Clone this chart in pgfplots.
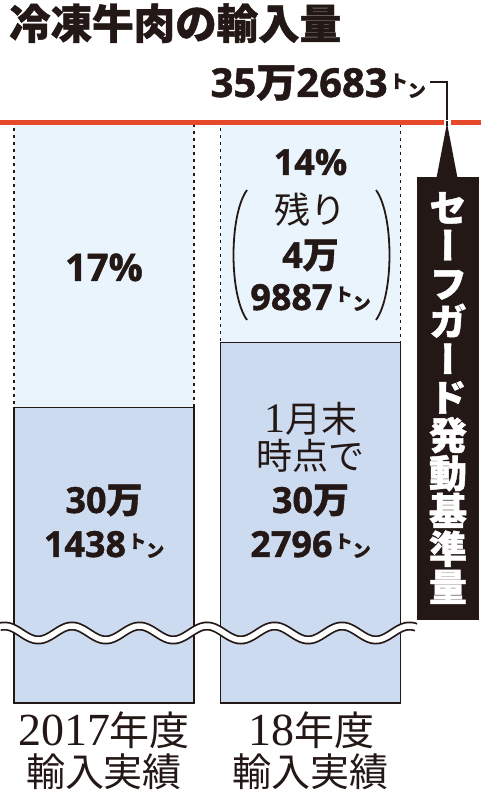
\documentclass[border=0pt]{standalone}
\usepackage{pgfplots}
\pgfplotsset{compat=1.18}
\usepackage{fontspec}
\newfontfamily\jp{Noto Sans CJK JP}[BoldFeatures={FakeBold=1.1}]
\newfontfamily\jpv{Noto Sans CJK JP}[RawFeature=+vert, BoldFeatures={FakeBold=1.2}]
\newfontfamily\os{Open Sans}[BoldFeatures={FakeBold=1.2}]
\newfontfamily\ser{Liberation Serif}
\definecolor{ink}{HTML}{231815}
\definecolor{lightb}{HTML}{E9F4FC}
\definecolor{darkb}{HTML}{CDDBF0}
\definecolor{redl}{HTML}{E5482B}
\newcommand\ton[1][18]{{\jp\bfseries\fontsize{#1}{#1}\selectfont\hspace{0.12em}\raisebox{0.5em}{ト}ン}}
\newcommand\NB[1][36]{\os\bfseries\fontsize{#1}{#1}\selectfont}
\newcommand\KB[1][36]{\jp\bfseries\fontsize{#1}{#1}\selectfont}
\newcommand\KR[1][36]{\jp\fontsize{#1}{#1}\selectfont}
\newcommand\SR[1][40]{\ser\fontsize{#1}{#1}\selectfont}
\begin{document}
\begin{tikzpicture}[x=1pt,y=1pt]
\useasboundingbox (0,0) rectangle (480,798);
\fill[white] (0,0) rectangle (480,798);
\begin{axis}[
  at={(0pt,95pt)}, anchor=south west,
  width=480pt, height=580pt, scale only axis,
  xmin=0, xmax=480, ymin=0, ymax=100,
  hide axis, clip=false]
% full scale (safeguard trigger level) shown as light bar
\addplot[ybar, bar width=180pt, bar shift=0pt, fill=lightb, draw=ink,
  line width=1.6pt, dash pattern=on 3pt off 4pt] coordinates {(104,100) (310.5,100)};
% imports (schematic height, broken axis)
\addplot[ybar, bar width=180pt, bar shift=0pt, fill=darkb, draw=ink,
  line width=1.3pt] coordinates {(104,50.9) (310.5,62.2)};
% safeguard trigger line 35万2683トン
\addplot[redl, line width=5pt] coordinates {(-5,100) (485,100)};
\end{axis}
% break marker
\draw[ink, line width=9pt] plot[domain=0:416, samples=160, smooth] (\x,{165+7*cos(5.3333*(\x-72))});
\draw[white, line width=5.5pt] plot[domain=-2:418, samples=160, smooth] (\x,{165+7*cos(5.3333*(\x-72))});
% title
\node[anchor=base west, inner sep=0pt, text=ink] at (9,798-39) {\KB[41.5]冷凍牛肉の輸入量};
% trigger value
\node[anchor=base east, inner sep=0pt, text=ink] at (426,798-97) {\NB[40]35\KB[40]万\NB[40]2683\ton[18]};
\draw[ink, line width=1.2pt] (430,798-82) -- (447,798-82) -- (447,798-121);
\fill[white] (444,798-126) rectangle (451,798-120);
\draw[ink, line width=1.2pt] (447,798-121) -- (447,798-126);
% arrow and black box
\fill[ink] (447,798-123) -- (457.5,798-178) -- (436.5,798-178) -- cycle;
\fill[ink] (417,798-177) rectangle (479,798-620);
\node[text=white, align=center, inner sep=0pt, font=\jpv\bfseries\fontsize{38}{37.9}\selectfont] at (448,798-398) {セ\\ー\\フ\\ガ\\ー\\ド\\発\\動\\基\\準\\量};
% left bar texts
\node[anchor=base, inner sep=0pt, text=ink] at (104,798-281) {\NB[38]17\%};
\node[anchor=base, inner sep=0pt, text=ink] at (104,798-513) {\NB[36]30\KB[36]万};
\node[anchor=base, inner sep=0pt, text=ink] at (104,798-557) {\NB[36]1438\ton};
% right bar texts
\node[anchor=base, inner sep=0pt, text=ink] at (310.5,798-175) {\NB[36]14\%};
\node[anchor=base, inner sep=0pt, text=ink] at (310.5,798-224) {\KR[36]残り};
\node[anchor=base, inner sep=0pt, text=ink] at (310.5,798-268) {\NB[36]4\KB[36]万};
\node[anchor=base, inner sep=0pt, text=ink] at (310.5,798-310) {\NB[36]9887\ton};
\draw[ink, line width=1.8pt] (247,798-190) .. controls (229,798-215) and (229,798-295) .. (247,798-320);
\draw[ink, line width=1.8pt] (376,798-190) .. controls (394,798-215) and (394,798-295) .. (376,798-320);
\node[anchor=base, inner sep=0pt, text=ink] at (310.5,798-433) {\SR[42]1\KR[36]月末};
\node[anchor=base, inner sep=0pt, text=ink] at (310.5,798-470) {\KR[36]時点で};
\node[anchor=base, inner sep=0pt, text=ink] at (310.5,798-513) {\NB[36]30\KB[36]万};
\node[anchor=base, inner sep=0pt, text=ink] at (310.5,798-557) {\NB[36]2796\ton};
% category labels
\node[anchor=base, inner sep=0pt, text=ink] at (104,798-746) {\SR[46]2017\KR[40]年度};
\node[anchor=base, inner sep=0pt, text=ink] at (104,798-787) {\KR[39]輸入実績};
\node[anchor=base, inner sep=0pt, text=ink] at (311,798-746) {\SR[46]18\KR[40]年度};
\node[anchor=base, inner sep=0pt, text=ink] at (310,798-787) {\KR[39]輸入実績};
\end{tikzpicture}
\end{document}
